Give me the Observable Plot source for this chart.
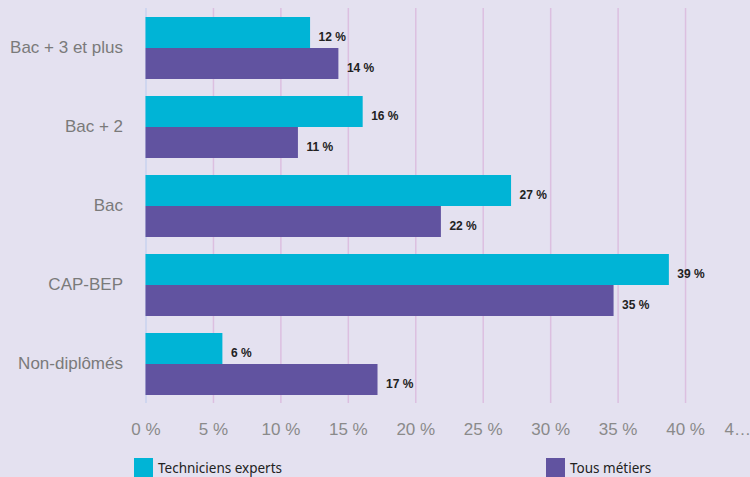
<!DOCTYPE html>
<html>
<head>
<meta charset="utf-8">
<script src="https://cdn.jsdelivr.net/npm/d3@7"></script>
<script src="https://cdn.jsdelivr.net/npm/@observablehq/plot@0.6"></script>
<style>
  html, body { margin: 0; padding: 0; background: #e4e1f0; }
  #wrap { position: relative; width: 750px; height: 477px; overflow: hidden; background: #e4e1f0; }
  #legend { position: absolute; left: 0; top: 458px; width: 750px; height: 19px; font-family: "Noto Sans", sans-serif; font-size: 13.5px; color: #222; }
  .item { position: absolute; top: 0; display: flex; align-items: center; height: 19px; }
  .sw { width: 19px; height: 19px; margin-right: 5px; }
  #chart svg text { font-family: "Liberation Sans", Arial, sans-serif; }
</style>
</head>
<body>
<div id="wrap">
  <div id="chart"></div>
  <div id="legend"></div>
</div>
<script>
const categories = ["Bac + 3 et plus", "Bac + 2", "Bac", "CAP-BEP", "Non-diplômés"];
const series = ["Techniciens experts", "Tous métiers"];
const techniciensExperts = [12.2, 16.1, 27.1, 38.8, 5.7];
const tousMetiers = [14.3, 11.3, 21.9, 34.7, 17.2];
const xTicks = [0, 5, 10, 15, 20, 25, 30, 35, 40];
const colors = ["#00b4d6", "#6153a0"];

const data = [];
categories.forEach((c, i) => {
  data.push({cat: c, series: series[0], value: techniciensExperts[i]});
  data.push({cat: c, series: series[1], value: tousMetiers[i]});
});

const font = "Liberation Sans";

const chart = Plot.plot({
  width: 750,
  height: 452,
  marginLeft: 145.5,
  marginRight: -2.5,
  marginTop: 6,
  marginBottom: 48,
  style: {background: "transparent", overflow: "visible"},
  x: {domain: [0, 45], axis: null, label: null},
  y: {domain: series, paddingInner: 0, paddingOuter: 0.25, axis: null, label: null},
  fy: {domain: categories, padding: 0, axis: null, label: null},
  color: {domain: series, range: colors},
  marks: [
    Plot.gridX(xTicks.filter(d => d > 0), {stroke: "#dcbfe0", strokeOpacity: 1, strokeWidth: 1.5}),
    Plot.ruleX([0], {stroke: "#c9d2ef", strokeWidth: 1.5}),
    Plot.barX(data, {x: "value", y: "series", fy: "cat", fill: "series"}),
    Plot.text(data, {x: "value", y: "series", fy: "cat", text: d => Math.round(d.value) + " %", dx: 8, dy: 4, textAnchor: "start", fontWeight: "bold", fontSize: 12, fill: "#222", fontFamily: font}),
    Plot.axisFy({anchor: "left", label: null, tickSize: 0, tickPadding: 23, fontSize: 17, color: "#7a7a7a", fontFamily: font}),
    Plot.axisX(xTicks, {anchor: "bottom", label: null, tickSize: 0, tickPadding: 19, fontSize: 17, color: "#8a8a8a", fontFamily: font, tickFormat: d => d + " %"}),
    Plot.axisX([45], {anchor: "bottom", label: null, tickSize: 0, tickPadding: 19, fontSize: 17, color: "#8a8a8a", fontFamily: font, tickFormat: () => "4…", textAnchor: "end", dx: -2})
  ]
});
document.getElementById("chart").appendChild(chart);

const legend = document.getElementById("legend");
const legendX = [134, 546];
series.forEach((s, i) => {
  const it = document.createElement("div");
  it.className = "item";
  it.style.left = legendX[i] + "px";
  const sw = document.createElement("div");
  sw.className = "sw";
  sw.style.background = colors[i];
  const t = document.createElement("span");
  t.textContent = s;
  it.appendChild(sw);
  it.appendChild(t);
  legend.appendChild(it);
});
</script>
</body>
</html>
